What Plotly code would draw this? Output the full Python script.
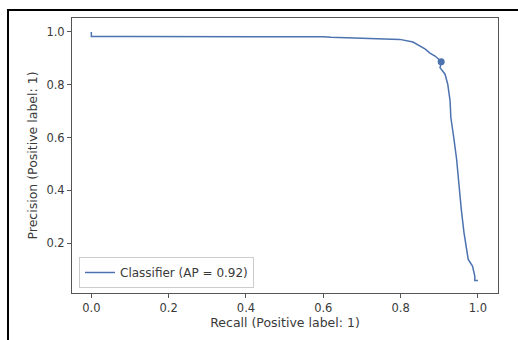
import plotly.graph_objects as go

# Precision-recall curve values
recall = [0.0, 0.0, 0.10, 0.30, 0.50, 0.60, 0.62, 0.68, 0.747, 0.798, 0.832, 0.863,
          0.876, 0.889, 0.900, 0.906, 0.902, 0.915, 0.922, 0.928, 0.930, 0.935,
          0.938, 0.945, 0.951, 0.957, 0.964, 0.970, 0.975, 0.986, 0.992, 0.992, 1.0]
precision = [1.0, 0.983, 0.983, 0.983, 0.983, 0.982, 0.980, 0.978, 0.976, 0.972, 0.962, 0.936,
             0.920, 0.909, 0.895, 0.886, 0.865, 0.840, 0.802, 0.739, 0.676, 0.610,
             0.595, 0.517, 0.416, 0.328, 0.240, 0.189, 0.138, 0.113, 0.075, 0.058, 0.058]
point_recall = [0.905]
point_precision = [0.887]
series_name = "Classifier (AP = 0.92)"
tick_vals_x = [0.0, 0.2, 0.4, 0.6, 0.8, 1.0]
tick_vals_y = [0.2, 0.4, 0.6, 0.8, 1.0]

color = "#4C72B0"
text_color = "#3a3a3a"
font_family = "DejaVu Sans"

fig = go.Figure()
fig.add_trace(go.Scatter(x=recall, y=precision, mode="lines", name=series_name,
                         line=dict(color=color, width=1.5)))
fig.add_trace(go.Scatter(x=point_recall, y=point_precision, mode="markers",
                         showlegend=False, marker=dict(color=color, size=7)))

L, R, T, B = 72, 20, 18, 47
W, H = 518, 340
pw, ph = W - L - R, H - T - B

axis_common = dict(showline=True, mirror=True, linecolor="#555555", linewidth=1,
                   ticks="outside", ticklen=4, tickcolor="#555555", tickwidth=1,
                   showgrid=False, zeroline=False, automargin=False,
                   tickfont=dict(family=font_family, size=11.5, color=text_color),
                   tickformat=".1f")

fig.update_xaxes(range=[-0.05, 1.052], tickvals=tick_vals_x,
                 title=dict(text="Recall (Positive label: 1)", standoff=4,
                            font=dict(family=font_family, size=12.5, color=text_color)),
                 **axis_common)
fig.update_yaxes(range=[0.011, 1.053], tickvals=tick_vals_y,
                 title=dict(text="Precision (Positive label: 1)", standoff=6,
                            font=dict(family=font_family, size=12.5, color=text_color)),
                 **axis_common)

# outer black frame of the screenshot
fig.add_shape(type="rect", xref="paper", yref="paper",
              x0=(8 - L) / pw, x1=1.3, y0=-0.4, y1=(H - B - 10) / ph,
              line=dict(color="black", width=2), fillcolor="rgba(0,0,0,0)", layer="above")

fig.update_layout(
    width=W, height=H,
    margin=dict(l=L, r=R, t=T, b=B),
    paper_bgcolor="white", plot_bgcolor="white",
    font=dict(family=font_family, size=12, color=text_color),
    legend=dict(x=(79 - L) / pw, y=(H - B - 288) / ph, xanchor="left", yanchor="bottom",
                bgcolor="rgba(255,255,255,0.8)", bordercolor="#cccccc", borderwidth=1,
                font=dict(family=font_family, size=12, color=text_color),
                itemwidth=30, tracegroupgap=0),
)

fig.write_html("out.html", config={"displayModeBar": False},
               post_script="document.body.style.margin='0';")
